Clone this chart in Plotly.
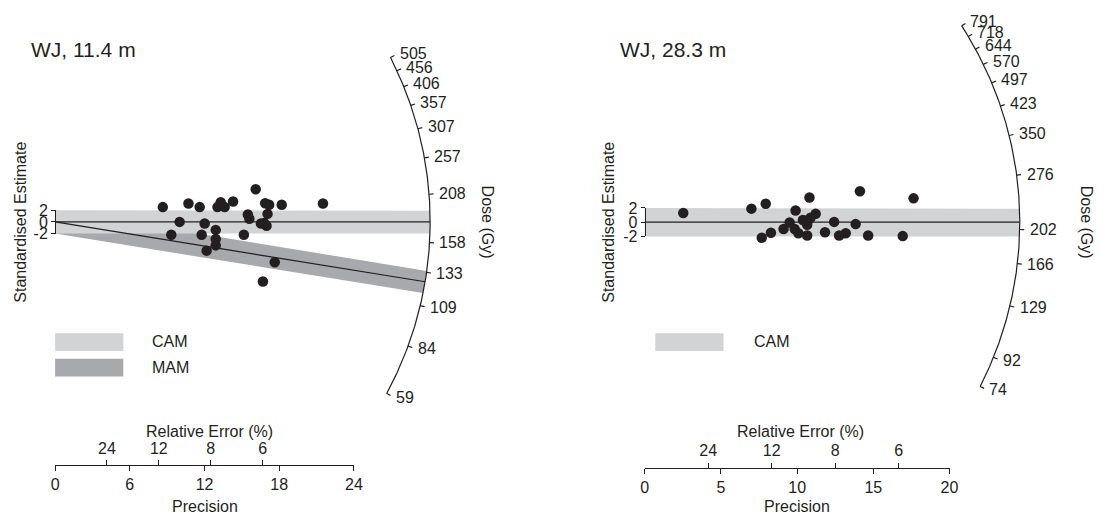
import numpy as np
import plotly.graph_objects as go

W, H = 1112, 529
FONT = "Arial, Liberation Sans, sans-serif"
INK = "#231f20"
LIGHT = "#d1d3d4"
DARK = "#a7a9ac"

# ---------------- data ----------------
# panel titles
left_title = "WJ, 11.4 m"
right_title = "WJ, 28.3 m"

# left panel: precision (1/relative error) and standardised estimate
left_precision = [8.65, 9.33, 10.00, 10.71, 11.61, 11.77, 12.01, 12.17, 12.90, 12.90,
                  12.90, 13.04, 13.30, 13.62, 14.29, 15.16, 15.48, 15.60, 16.11, 16.53,
                  16.69, 16.87, 16.79, 16.98, 17.06, 17.19, 17.64, 18.20, 21.51]
left_std = [2.53, -2.20, 0.00, 3.15, 2.53, -2.20, -0.28, -4.92, -1.37, -2.93,
            -4.02, 2.53, 3.36, 2.53, 3.48, -2.20, 1.27, 0.55, 5.58, -0.28,
            -10.21, 3.20, -0.17, -0.66, 1.37, 2.93, -6.90, 2.93, 3.15]

# right panel
right_precision = [2.53, 7.00, 7.68, 7.94, 8.28, 9.11, 9.51, 9.84, 9.90, 10.08,
                   10.38, 10.66, 10.66, 10.73, 10.81, 10.88, 11.22, 11.83, 12.43, 12.76,
                   13.19, 13.84, 14.12, 14.66, 16.93, 17.64]
right_std = [1.30, 1.90, -2.17, 2.58, -1.49, -0.95, -0.05, -0.95, 1.63, -1.55,
             0.31, -1.86, -0.37, 0.27, 3.47, 0.62, 1.17, -1.41, 0.04, -1.86,
             -1.55, -0.27, 4.34, -1.86, -1.95, 3.34]

# dose scale (Gy)
left_dose_ticks = [59, 84, 109, 133, 158, 208, 257, 307, 357, 406, 456, 505]
right_dose_ticks = [74, 92, 129, 166, 202, 276, 350, 423, 497, 570, 644, 718, 791]
left_cam = 177.7
left_mam = 125.9
right_cam = 210.6

left_precision_ticks = [0, 6, 12, 18, 24]
right_precision_ticks = [0, 5, 10, 15, 20]
rel_error_ticks = [24, 12, 8, 6]
std_ticks = [-2, 0, 2]

# ---------------- geometry (pixels) ----------------
geo_left = dict(ox=51.7, oy=221.0, sx=12.6, sy=6.04, R=379.5, x0=0, x1=556, axis_y=472.3)
geo_right = dict(ox=648.3, oy=221.3, sx=15.42, sy=7.37, R=379.5, x0=556, x1=1112, axis_y=475.0)


def ray(s, r, g):
    d = np.hypot(g["sx"], g["sy"] * s)
    x = r / d
    return x, s * x


def arc_pts(phi, g):
    return g["R"] * np.cos(phi) / g["sx"], g["R"] * np.sin(phi) / g["sy"]


def phi_of(x, y, g):
    return np.arctan2(g["sy"] * y, g["sx"] * x)


def hit(s, c, g):
    # intersection of y = s x + c with the arc
    a = g["sx"] ** 2 + g["sy"] ** 2 * s ** 2
    b = 2 * g["sy"] ** 2 * s * c
    cc = g["sy"] ** 2 * c ** 2 - g["R"] ** 2
    x = (-b + np.sqrt(b * b - 4 * a * cc)) / (2 * a)
    return x, s * x + c


def band(s, g):
    xt, yt = hit(s, 2, g)
    xb, yb = hit(s, -2, g)
    ph = np.linspace(phi_of(xt, yt, g), phi_of(xb, yb, g), 40)
    ax, ay = arc_pts(ph, g)
    xs = [0, xt] + list(ax) + [xb, 0, 0]
    ys = [2, yt] + list(ay) + [yb, -2, 2]
    return xs, ys


fig = go.Figure()
annotations = []
shapes = []


def panel(xa, ya, g, prec, std, ticks, cam, mam, px_axis, rx_axis, py_axis):
    z0 = np.log(cam)
    xr, yr = xa.replace("axis", ""), ya.replace("axis", "")
    # MAM band first (under CAM band)
    if mam is not None:
        sm = np.log(mam) - z0
        bx, by = band(sm, g)
        fig.add_trace(go.Scatter(x=bx, y=by, xaxis=xr, yaxis=yr, mode="lines", fill="toself",
                                 fillcolor=DARK, line=dict(width=0), hoverinfo="skip", showlegend=False))
    bx, by = band(0.0, g)
    fig.add_trace(go.Scatter(x=bx, y=by, xaxis=xr, yaxis=yr, mode="lines", fill="toself",
                             fillcolor=LIGHT, line=dict(width=0), hoverinfo="skip", showlegend=False))
    # central lines
    ex, ey = ray(0.0, g["R"], g)
    fig.add_trace(go.Scatter(x=[0, ex], y=[0, ey], xaxis=xr, yaxis=yr, mode="lines",
                             line=dict(color=INK, width=1.2), hoverinfo="skip", showlegend=False))
    if mam is not None:
        ex, ey = ray(sm, g["R"], g)
        fig.add_trace(go.Scatter(x=[0, ex], y=[0, ey], xaxis=xr, yaxis=yr, mode="lines",
                                 line=dict(color=INK, width=1.2), hoverinfo="skip", showlegend=False))
    # arc
    s_lo, s_hi = np.log(min(ticks)) - z0, np.log(max(ticks)) - z0
    ph = np.linspace(phi_of(*ray(s_lo, 1, g), g), phi_of(*ray(s_hi, 1, g), g), 300)
    ax_, ay_ = arc_pts(ph, g)
    fig.add_trace(go.Scatter(x=ax_, y=ay_, xaxis=xr, yaxis=yr, mode="lines",
                             line=dict(color=INK, width=1.2), hoverinfo="skip", showlegend=False))
    # ticks + labels
    tx, ty = [], []
    for d in ticks:
        s = np.log(d) - z0
        x1, y1 = ray(s, g["R"], g)
        x2, y2 = ray(s, g["R"] + 4.5, g)
        tx += [x1, x2, None]
        ty += [y1, y2, None]
        lx, ly = ray(s, g["R"] + 8, g)
        annotations.append(dict(x=lx, y=ly, xref=xr, yref=yr, text=str(d), showarrow=False,
                                xanchor="left", yanchor="middle", font=dict(size=16)))
    fig.add_trace(go.Scatter(x=tx, y=ty, xaxis=xr, yaxis=yr, mode="lines",
                             line=dict(color=INK, width=1.2), hoverinfo="skip", showlegend=False))
    # points
    fig.add_trace(go.Scatter(x=prec, y=std, xaxis=xr, yaxis=yr, mode="markers",
                             marker=dict(size=10.5, color=INK), showlegend=False))
    # helper invisible traces for the free axes
    for xx, yy in [(px_axis, yr), (rx_axis, yr), (xr, py_axis)]:
        fig.add_trace(go.Scatter(x=[0], y=[0], xaxis=xx, yaxis=yy, mode="markers",
                                 marker=dict(opacity=0), hoverinfo="skip", showlegend=False))


panel("xaxis", "yaxis", geo_left, left_precision, left_std, left_dose_ticks, left_cam, left_mam,
      "x3", "x4", "y3")
panel("xaxis2", "yaxis2", geo_right, right_precision, right_std, right_dose_ticks, right_cam, None,
      "x5", "x6", "y4")

axis_common = dict(showgrid=False, zeroline=False, ticks="outside", tickcolor=INK, linecolor=INK,
                   linewidth=1.2, tickwidth=1.2, tickfont=dict(size=16, color=INK))


def main_axes(g):
    xa = dict(domain=[g["x0"] / W, g["x1"] / W], range=[(g["x0"] - g["ox"]) / g["sx"], (g["x1"] - g["ox"]) / g["sx"]],
              visible=False, fixedrange=True)
    ya = dict(domain=[0, 1], range=[(g["oy"] - H) / g["sy"], g["oy"] / g["sy"]], visible=False, fixedrange=True)
    return xa, ya


def prec_axis(g, pt):
    return dict(axis_common, domain=[g["ox"] / W, (g["ox"] + pt[-1] * g["sx"]) / W], range=[0, pt[-1]],
                anchor="free", position=1 - g["axis_y"] / H, tickvals=pt, ticklen=5, showline=True)


def rel_axis(g, pt, over):
    return dict(axis_common, overlaying=over, side="top", range=[0, pt[-1]], anchor="free",
                position=1 - g["axis_y"] / H, tickvals=[100 / r for r in rel_error_ticks],
                ticktext=[str(r) for r in rel_error_ticks], ticklen=5, showline=False)


def std_axis(g):
    return dict(axis_common, domain=[1 - (g["oy"] + 2 * g["sy"]) / H, 1 - (g["oy"] - 2 * g["sy"]) / H],
                range=[-2, 2], anchor="free", position=g["ox"] / W, side="left", tickvals=std_ticks,
                ticktext=[str(t) for t in std_ticks], ticklen=4, showline=True)


x1a, y1a = main_axes(geo_left)
x2a, y2a = main_axes(geo_right)
y2a["anchor"] = "x2"
x2a["anchor"] = "y2"


def P(px, py):
    return px / W, 1 - py / H


def text(px, py, t, size=16, xanchor="center", angle=0):
    x, y = P(px, py)
    annotations.append(dict(x=x, y=y, xref="paper", yref="paper", text=t, showarrow=False,
                            xanchor=xanchor, yanchor="middle", textangle=angle, font=dict(size=size)))


def rect(x0, y0, x1, y1, color):
    a, b = P(x0, y0)
    c, d = P(x1, y1)
    shapes.append(dict(type="rect", xref="paper", yref="paper", x0=a, y0=d, x1=c, y1=b,
                       fillcolor=color, line=dict(width=0)))


# titles and labels
text(25, 43, left_title, size=21, xanchor="left")
text(621, 43, right_title, size=21, xanchor="left")
text(17, 221, "Standardised Estimate", angle=-90)
text(612, 221, "Standardised Estimate", angle=-90)
text(489, 221, "Dose (Gy)", angle=90)
text(1095, 221, "Dose (Gy)", angle=90)
text(208, 438, "Relative Error (%)")
text(806, 438, "Relative Error (%)")
text(203, 515, "Precision")
text(802, 515, "Precision")
# legends
rect(51.7, 336, 120.7, 354.3, LIGHT)
rect(51.7, 362.3, 120.7, 380.7, DARK)
text(148, 345, "CAM", xanchor="left")
text(148, 371.5, "MAM", xanchor="left")
rect(659, 336, 728, 354.3, LIGHT)
text(756.7, 345, "CAM", xanchor="left")

fig.update_layout(
    width=W, height=H,
    margin=dict(l=0, r=0, t=0, b=0),
    paper_bgcolor="white", plot_bgcolor="rgba(0,0,0,0)",
    font=dict(family=FONT, size=16, color=INK),
    showlegend=False,
    xaxis=x1a, yaxis=y1a, xaxis2=x2a, yaxis2=y2a,
    xaxis3=prec_axis(geo_left, left_precision_ticks),
    xaxis4=rel_axis(geo_left, left_precision_ticks, "x3"),
    yaxis3=std_axis(geo_left),
    xaxis5=prec_axis(geo_right, right_precision_ticks),
    xaxis6=rel_axis(geo_right, right_precision_ticks, "x5"),
    yaxis4=std_axis(geo_right),
    annotations=annotations,
    shapes=shapes,
)

fig.write_html("out.html", config={"displayModeBar": False},
               post_script="document.body.style.margin='0';document.body.style.overflow='hidden';")
